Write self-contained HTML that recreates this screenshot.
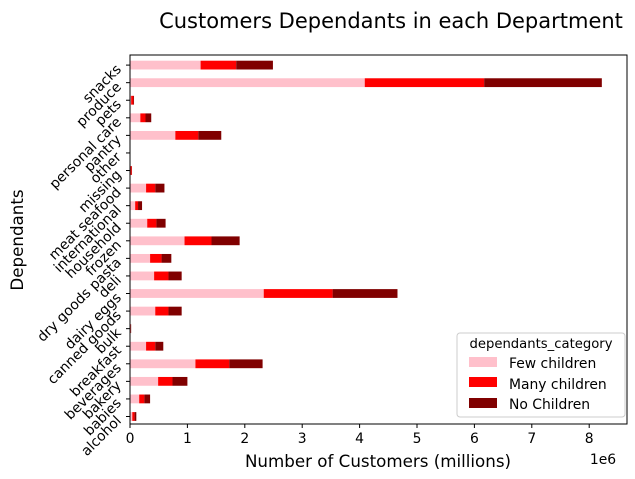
<!DOCTYPE html>
<html><head><meta charset="utf-8"><style>
body{margin:0;background:#fff;}
svg{display:block;font-family:"DejaVu Sans","Liberation Sans",sans-serif;}
</style></head><body>
<svg id="chart" width="635" height="479">
<text x="391" y="28" font-size="21" text-anchor="middle">Customers Dependants in each Department</text>
<g id="bars"></g>
<rect x="130" y="55" width="497" height="369" fill="none" stroke="#000" stroke-width="1"/>
<g id="xaxis"></g>
<g id="yaxis"></g>
<text x="378" y="467" font-size="16.7" text-anchor="middle">Number of Customers (millions)</text>
<text x="603" y="464" font-size="13.9" text-anchor="middle">1e6</text>
<text transform="translate(23,240) rotate(-90)" font-size="16.7" text-anchor="middle">Dependants</text>
<g>
<rect x="457" y="333" width="168" height="84" rx="3" fill="#fff" stroke="#ccc"/>
<text x="541" y="348" font-size="13.2" text-anchor="middle">dependants_category</text>
<rect x="469" y="357" width="28" height="10" fill="#ffc0cb"/>
<text x="509" y="368" font-size="13.9">Few children</text>
<rect x="469" y="377" width="28" height="10" fill="#ff0000"/>
<text x="509" y="389" font-size="13.9">Many children</text>
<rect x="469" y="398" width="28" height="10" fill="#800000"/>
<text x="509" y="409" font-size="13.9">No Children</text>
</g>
</svg>
<script>
const categories=["alcohol","babies","bakery","beverages","breakfast","bulk","canned goods","dairy eggs","deli","dry goods pasta","frozen","household","international","meat seafood","missing","other","pantry","personal care","pets","produce","snacks"];
const fewChildren=[0.04,0.16,0.49,1.14,0.28,0.01,0.44,2.33,0.42,0.35,0.95,0.30,0.09,0.28,0.01,0.003,0.79,0.18,0.02,4.09,1.23];
const manyChildren=[0.04,0.09,0.25,0.59,0.16,0.005,0.23,1.20,0.25,0.20,0.47,0.16,0.05,0.16,0.02,0.002,0.40,0.09,0.04,2.08,0.62];
const noChildren=[0.03,0.10,0.26,0.58,0.14,0.005,0.23,1.13,0.23,0.17,0.49,0.16,0.07,0.16,0.005,0.002,0.40,0.10,0.01,2.05,0.64];
const xTicks=[0,1,2,3,4,5,6,7,8];
const colors=["#ffc0cb","#ff0000","#800000"];
const NS="http://www.w3.org/2000/svg";
const x=v=>130+v*57.4;
const y=i=>416.5-i*17.57;
const bars=document.getElementById('bars');
const series=[fewChildren,manyChildren,noChildren];
const snames=["few","many","no"];
categories.forEach((c,i)=>{
  let acc=0;
  series.forEach((s,k)=>{
    const r=document.createElementNS(NS,'rect');
    r.setAttribute('x',x(acc));r.setAttribute('width',x(acc+s[i])-x(acc));
    r.setAttribute('y',y(i)-4.4);r.setAttribute('height',8.8);
    r.setAttribute('fill',colors[k]);
    
    
    bars.appendChild(r);acc+=s[i];
  });
});
const xa=document.getElementById('xaxis');
xTicks.forEach(t=>{
  const l=document.createElementNS(NS,'line');
  l.setAttribute('x1',x(t));l.setAttribute('x2',x(t));l.setAttribute('y1',424);l.setAttribute('y2',428);l.setAttribute('stroke','#000');
  
  
  xa.appendChild(l);
  const tx=document.createElementNS(NS,'text');
  tx.setAttribute('x',x(t));tx.setAttribute('y',443);tx.setAttribute('font-size','13.9');tx.setAttribute('text-anchor','middle');
  tx.textContent=t;
  
  
  xa.appendChild(tx);
});
const ya=document.getElementById('yaxis');
categories.forEach((c,i)=>{
  const l=document.createElementNS(NS,'line');
  l.setAttribute('x1',126);l.setAttribute('x2',130);l.setAttribute('y1',y(i));l.setAttribute('y2',y(i));l.setAttribute('stroke','#000');
  
  
  ya.appendChild(l);
  const tx=document.createElementNS(NS,'text');
  tx.setAttribute('transform','translate(122,'+(y(i)+5)+') rotate(-45)');
  tx.setAttribute('font-size','13.9');tx.setAttribute('text-anchor','end');
  tx.textContent=c;
  
  
  ya.appendChild(tx);
});
</script>
</body></html>
